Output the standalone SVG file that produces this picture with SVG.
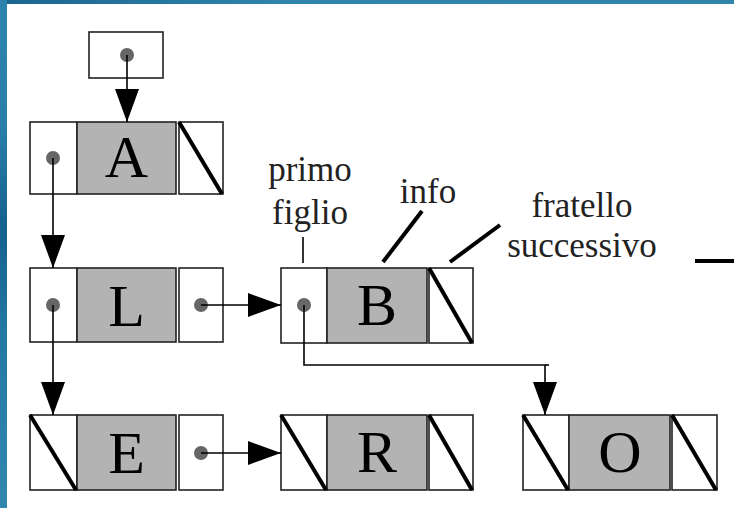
<svg xmlns="http://www.w3.org/2000/svg" width="734" height="508" viewBox="0 0 734 508">
<defs>
<linearGradient id="topband" x1="0" y1="0" x2="1" y2="0">
<stop offset="0" stop-color="#1b6691"/>
<stop offset="0.4" stop-color="#2f86ac"/>
<stop offset="1" stop-color="#3186ac"/>
</linearGradient>
<linearGradient id="leftband" x1="0" y1="0" x2="0" y2="1">
<stop offset="0" stop-color="#2c84ac"/>
<stop offset="0.25" stop-color="#2a7fa8"/>
<stop offset="0.45" stop-color="#15608d"/>
<stop offset="0.65" stop-color="#2478a3"/>
<stop offset="1" stop-color="#3188af"/>
</linearGradient>
<marker id="ah" viewBox="0 -12 33 24" markerWidth="33" markerHeight="24" refX="33" refY="0" orient="auto" markerUnits="userSpaceOnUse">
<path d="M0,-12 L33,0 L0,12 z" fill="#000"/>
</marker>
<style>
.cell{fill:#fff;stroke:#222;stroke-width:1.6}
.info{fill:#b3b3b3;stroke:#222;stroke-width:1.6}
.nil{stroke:#000;stroke-width:4;stroke-linecap:butt}
.dot{fill:#666}
.big{font-family:"Liberation Serif","Times New Roman",serif;font-size:60px;fill:#000;text-anchor:middle}
.lbl{font-family:"Liberation Serif","Times New Roman",serif;font-size:35px;fill:#222;text-anchor:middle}
.conn{fill:none;stroke:#000;stroke-width:1.6}
.thick{fill:none;stroke:#000;stroke-width:4}
</style>
</defs>
<rect x="0" y="0" width="734" height="508" fill="#fff"/>
<rect x="0" y="0" width="734" height="4" fill="url(#topband)"/>
<rect x="0" y="0" width="7" height="508" fill="url(#leftband)"/>

<g id="root">
<rect class="cell" x="89" y="32" width="74" height="46"/>
<circle class="dot" cx="127" cy="55" r="7"/>
</g>

<g id="node-A">
<rect class="cell" x="30" y="122" width="47" height="72"/>
<rect class="info" x="77" y="122" width="99" height="72"/>
<rect class="cell" x="179" y="122" width="44" height="72"/>
<line class="nil" x1="179" y1="122" x2="222" y2="194"/>
<circle class="dot" cx="53" cy="158" r="7"/>
<text class="big" x="126.5" y="177">A</text>
</g>

<g id="node-L">
<rect class="cell" x="30" y="268" width="47" height="74"/>
<rect class="info" x="77" y="268" width="99" height="74"/>
<rect class="cell" x="179" y="268" width="44" height="74"/>
<circle class="dot" cx="53" cy="305" r="7"/>
<circle class="dot" cx="201" cy="305" r="7"/>
<text class="big" x="126.5" y="326">L</text>
</g>

<g id="node-B">
<rect class="cell" x="281" y="268" width="46" height="75"/>
<rect class="info" x="327" y="268" width="100" height="75"/>
<rect class="cell" x="429" y="268" width="44" height="75"/>
<line class="nil" x1="429" y1="268" x2="472" y2="343"/>
<circle class="dot" cx="304" cy="305" r="7"/>
<text class="big" x="377" y="325">B</text>
</g>

<g id="node-E">
<rect class="cell" x="30" y="415" width="47" height="75"/>
<rect class="info" x="77" y="415" width="99" height="75"/>
<rect class="cell" x="179" y="415" width="44" height="75"/>
<line class="nil" x1="30" y1="415" x2="76" y2="490"/>
<circle class="dot" cx="201" cy="453" r="7"/>
<text class="big" x="126.5" y="473">E</text>
</g>

<g id="node-R">
<rect class="cell" x="281" y="415" width="46" height="75"/>
<rect class="info" x="327" y="415" width="100" height="75"/>
<rect class="cell" x="429" y="415" width="44" height="75"/>
<line class="nil" x1="281" y1="415" x2="326" y2="490"/>
<line class="nil" x1="429" y1="415" x2="472" y2="490"/>
<text class="big" x="377" y="472">R</text>
</g>

<g id="node-O">
<rect class="cell" x="523" y="415" width="46" height="75"/>
<rect class="info" x="569" y="415" width="101" height="75"/>
<rect class="cell" x="672" y="415" width="45" height="75"/>
<line class="nil" x1="523" y1="415" x2="568" y2="490"/>
<line class="nil" x1="672" y1="415" x2="716" y2="490"/>
<text class="big" x="620" y="472">O</text>
</g>

<g id="labels">
<text class="lbl" x="310" y="181">primo</text>
<text class="lbl" x="310" y="224">figlio</text>
<text class="lbl" x="428" y="203">info</text>
<text class="lbl" x="582" y="217">fratello</text>
<text class="lbl" x="582" y="257">successivo</text>
</g>

<g id="connectors">
<line class="conn" x1="127" y1="55" x2="127" y2="122" marker-end="url(#ah)"/>
<line class="conn" x1="53" y1="158" x2="53" y2="268" marker-end="url(#ah)"/>
<line class="conn" x1="53" y1="305" x2="53" y2="415" marker-end="url(#ah)"/>
<line class="conn" x1="201" y1="305" x2="281" y2="305" marker-end="url(#ah)"/>
<line class="conn" x1="201" y1="453" x2="281" y2="453" marker-end="url(#ah)"/>
<path class="conn" d="M304,305 V365 H545 V415" marker-end="url(#ah)"/>
<line class="conn" x1="545" y1="365" x2="549" y2="365"/>
<line class="conn" x1="303" y1="237" x2="303" y2="263"/>
<line class="thick" x1="422" y1="211" x2="383" y2="262"/>
<line class="thick" x1="500" y1="225" x2="450" y2="262"/>
<line class="thick" x1="695" y1="261" x2="734" y2="261"/>
</g>
</svg>
